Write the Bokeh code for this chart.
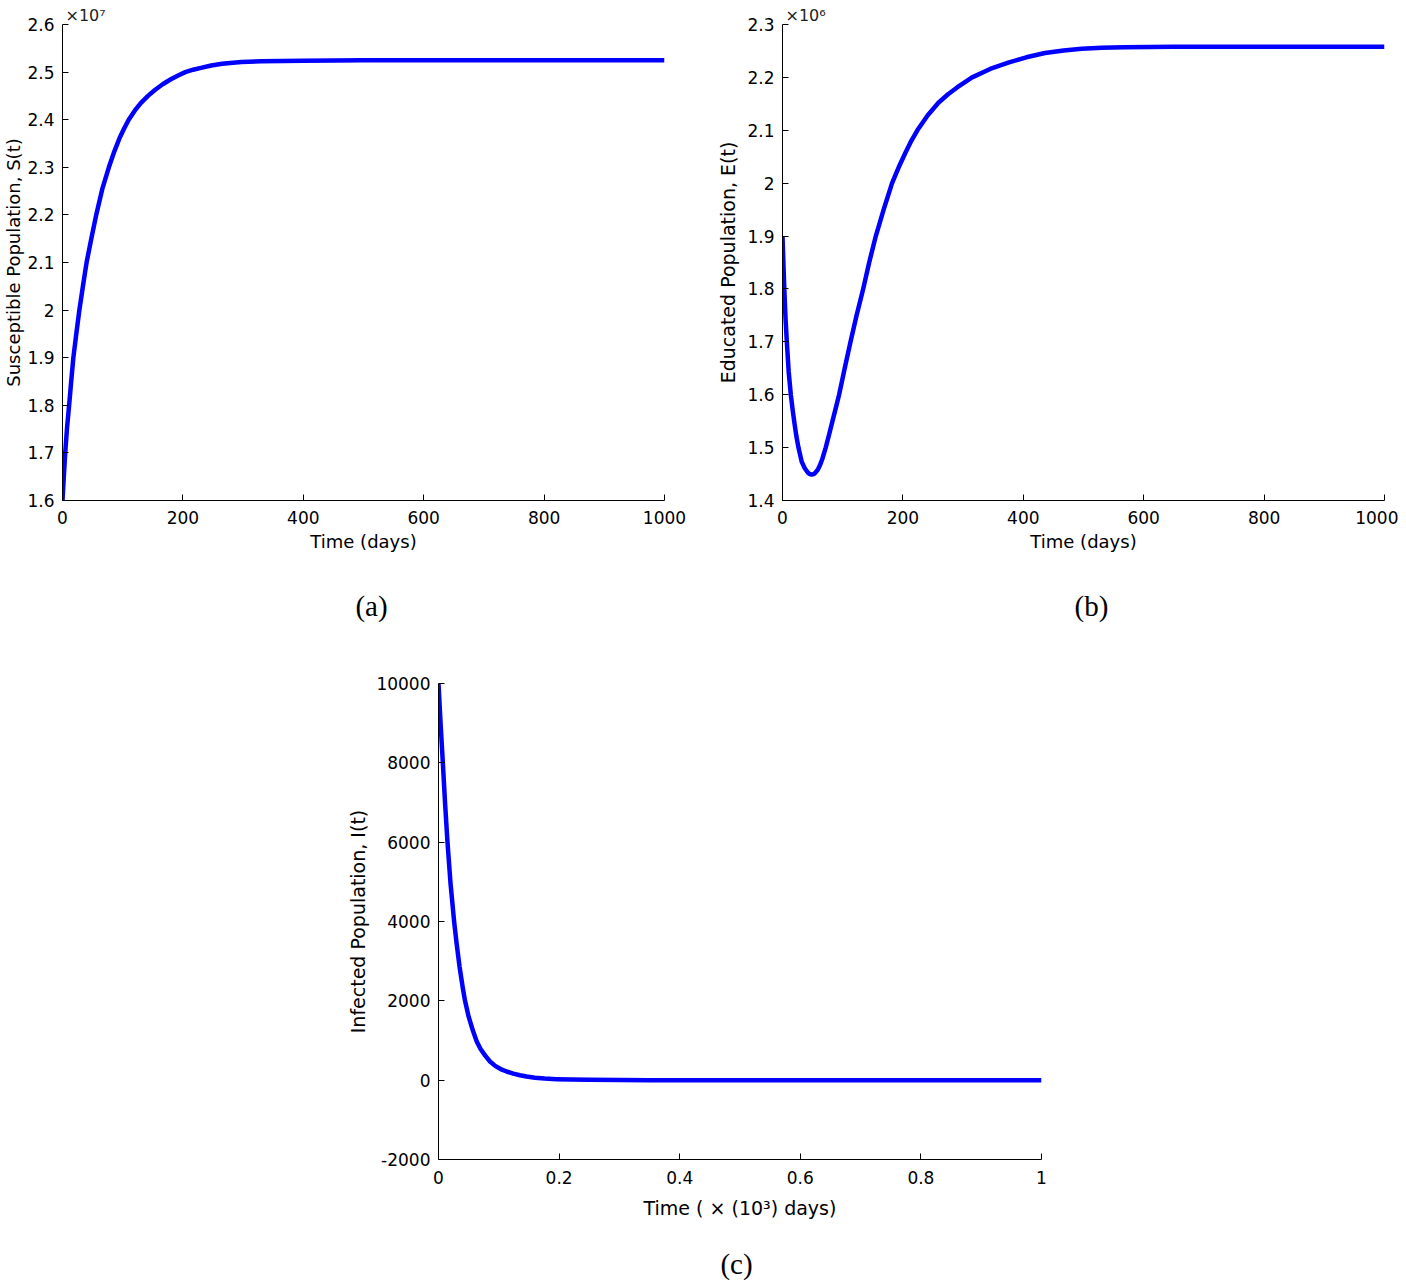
from bokeh.plotting import figure
from bokeh.layouts import column, row
from bokeh.models import Range1d, FixedTicker, CustomJSTickFormatter, Label, Title
from bokeh.embed import file_html
from bokeh.resources import INLINE

# ---------------- data ----------------
# (a) Susceptible population S(t), values in units of 1e7
t_a = [0, 2, 4.5, 7.5, 11, 14.5, 18, 23, 28, 34, 40, 48, 56, 66, 77, 86, 95, 103,
       110, 120, 130, 142, 154, 167, 180, 192, 204, 217, 230, 247, 265, 297, 330,
       400, 500, 600, 800, 1000]
S_1e7 = [1.600, 1.646, 1.700, 1.752, 1.800, 1.851, 1.900, 1.951, 2.000, 2.051,
         2.100, 2.151, 2.200, 2.254, 2.300, 2.333, 2.362, 2.383, 2.400, 2.419,
         2.435, 2.450, 2.463, 2.475, 2.485, 2.493, 2.500, 2.505, 2.509, 2.514,
         2.5175, 2.521, 2.523, 2.524, 2.525, 2.525, 2.525, 2.525]

# (b) Educated population E(t), values in units of 1e6
t_b = [0, 1.5, 3, 5, 7.2, 10.3, 13.8, 17, 20, 23, 26.5, 32, 37, 42, 45, 48.6, 52,
       55, 59, 62, 66, 71.8, 77, 83, 89, 94, 103, 113, 123, 134, 144, 155, 168,
       182, 193, 204, 214, 224, 241, 259, 275, 290, 315, 345, 375, 405, 436, 467,
       497, 530, 568, 650, 800, 1000]
E_1e6 = [1.900, 1.849, 1.800, 1.745, 1.700, 1.643, 1.600, 1.570, 1.545, 1.522,
         1.500, 1.473, 1.461, 1.453, 1.450, 1.449, 1.450, 1.453, 1.459, 1.466,
         1.478, 1.500, 1.523, 1.550, 1.577, 1.600, 1.648, 1.700, 1.750, 1.800,
         1.850, 1.900, 1.950, 2.000, 2.030, 2.057, 2.080, 2.100, 2.128, 2.152,
         2.168, 2.181, 2.200, 2.216, 2.228, 2.238, 2.246, 2.251, 2.254, 2.256,
         2.257, 2.258, 2.258, 2.258]

# (c) Infected population I(t), time in units of 1e3 days
t_c = [0, 0.0036, 0.0072, 0.011, 0.0149, 0.020, 0.0259, 0.030, 0.035, 0.040,
       0.044, 0.050, 0.057, 0.0634, 0.070, 0.0775, 0.0854, 0.094, 0.103, 0.113,
       0.124, 0.135, 0.146, 0.160, 0.176, 0.196, 0.22, 0.25, 0.30, 0.35, 0.40,
       0.60, 0.80, 1.00]
I_vals = [10000, 8950, 8000, 6950, 6000, 4950, 4000, 3450, 2850, 2350, 2000, 1600,
          1250, 975, 780, 620, 470, 360, 280, 218, 165, 125, 92, 63, 40, 25, 14, 8,
          3, 1, 0, 0, 0, 0]

# tick positions
days_ticks = [0, 200, 400, 600, 800, 1000]
a_yticks = [1.6, 1.7, 1.8, 1.9, 2.0, 2.1, 2.2, 2.3, 2.4, 2.5, 2.6]
b_yticks = [1.4, 1.5, 1.6, 1.7, 1.8, 1.9, 2.0, 2.1, 2.2, 2.3]
c_xticks = [0, 0.2, 0.4, 0.6, 0.8, 1.0]
c_yticks = [-2000, 0, 2000, 4000, 6000, 8000, 10000]

# texts
a_ylabel = "Susceptible Population, S(t)"
b_ylabel = "Educated Population, E(t)"
c_ylabel = "Infected Population, I(t)"
ab_xlabel = "Time (days)"
c_xlabel = "Time ( \u00d7 (10\u00b3) days)"
a_mult = "\u00d710\u2077"
b_mult = "\u00d710\u2076"
captions = ["(a)", "(b)", "(c)"]

SANS = "DejaVu Sans"
SERIF = "Liberation Serif"
BLUE = "#0000ff"

fmt_code = "return String(Math.round(tick*1000)/1000)"


def make_fig(bl, bt, br, bb, fw, fh, xr, yr, xticks, yticks, xlabel, ylabel,
             x_std, xl_std, y_std, yl_std, xl_size="18px", yl_size="19px"):
    p = figure(frame_width=fw, frame_height=fh,
               min_border_left=bl, min_border_top=bt,
               min_border_right=br, min_border_bottom=bb,
               x_range=Range1d(*xr), y_range=Range1d(*yr),
               output_backend="svg", toolbar_location=None,
               background_fill_color="white", border_fill_color="white")
    p.outline_line_color = None
    p.xgrid.visible = False
    p.ygrid.visible = False
    for ax, ticks, lab, std, lstd, lsize in (
            (p.xaxis[0], xticks, xlabel, x_std, xl_std, xl_size),
            (p.yaxis[0], yticks, ylabel, y_std, yl_std, yl_size)):
        ax.ticker = FixedTicker(ticks=ticks)
        ax.formatter = CustomJSTickFormatter(code=fmt_code)
        ax.major_tick_in = 6
        ax.major_tick_out = 0
        ax.major_tick_line_color = "black"
        ax.minor_tick_line_color = None
        ax.axis_line_color = "black"
        ax.axis_line_width = 1
        ax.major_label_text_font = SANS
        ax.major_label_text_font_size = "17px"
        ax.major_label_text_color = "black"
        ax.major_label_standoff = std
        ax.axis_label = lab
        ax.axis_label_text_font = SANS
        ax.axis_label_text_font_size = lsize
        ax.axis_label_text_font_style = "normal"
        ax.axis_label_text_color = "black"
        ax.axis_label_standoff = lstd
    return p


def add_multiplier(p, txt):
    p.add_layout(Title(text=txt, align="left", offset=3, standoff=0,
                       text_font=SANS, text_font_size="16px",
                       text_font_style="normal", text_color="#222222"), "above")


def caption_fig(width, height):
    c = figure(frame_width=width, frame_height=height,
               min_border_left=0, min_border_right=0, min_border_top=0,
               min_border_bottom=0, x_range=Range1d(0, 1), y_range=Range1d(0, 1),
               x_axis_location=None, y_axis_location=None,
               output_backend="svg", toolbar_location=None,
               background_fill_color="white", border_fill_color="white")
    c.outline_line_color = None
    c.xgrid.visible = False
    c.ygrid.visible = False
    return c


def add_caption(c, x, y, txt):
    c.add_layout(Label(x=x, y=y, x_units="screen", y_units="screen", text=txt,
                       text_font=SERIF, text_font_size="29px", text_color="black",
                       text_align="center", text_baseline="middle"))


FH = 476

# (a)
pa = make_fig(62, 24, 44, 70, 602, FH, (0, 1000), (1.6, 2.6), days_ticks, a_yticks,
              ab_xlabel, a_ylabel, 10, 4, 8, 0, yl_size="18px")
pa.line(t_a, S_1e7, line_color=BLUE, line_width=4.5, line_join="round")
add_multiplier(pa, a_mult)

# (b)
pb = make_fig(74, 24, 14, 70, 602, FH, (0, 1000), (1.4, 2.3), days_ticks, b_yticks,
              ab_xlabel, b_ylabel, 10, 4, 8, 5)
pb.line(t_b, E_1e6, line_color=BLUE, line_width=4.5, line_join="round")
add_multiplier(pb, b_mult)

# captions (a), (b)  -> band from y=570 to y=640
cap1 = caption_fig(1400, 70)
add_caption(cap1, 371, 35, captions[0])
add_caption(cap1, 1091, 35, captions[1])

# (c)
pc = make_fig(438, 43, 67, 70, 603, FH, (0, 1), (-2000, 10000), c_xticks, c_yticks,
              c_xlabel, c_ylabel, 11, 10, 8, 4, xl_size="19px")
pc.line(t_c, I_vals, line_color=BLUE, line_width=4.5, line_join="round")

# caption (c) -> band from y=1229 to y=1280
cap2 = caption_fig(1400, 51)
add_caption(cap2, 736, 17, captions[2])

layout = column(row(pa, pb), row(cap1), row(pc), row(cap2))

open("out.html", "w").write(file_html(layout, INLINE))
